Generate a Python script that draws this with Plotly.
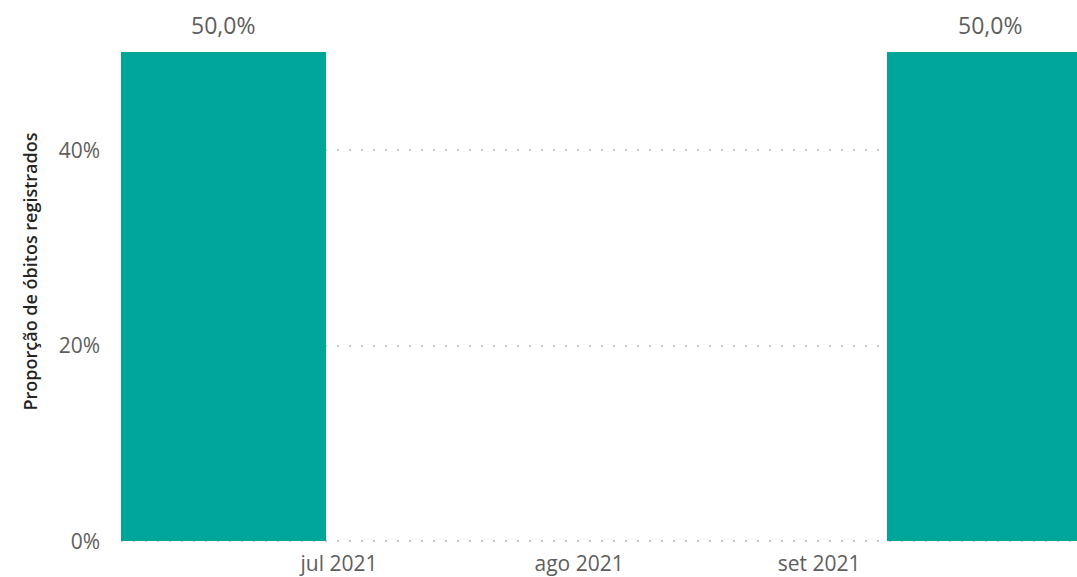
import plotly.graph_objects as go

# Data
dates = ["2021-06-16", "2021-09-23"]
values = [0.5, 0.5]
tick_dates = ["2021-07-01", "2021-08-01", "2021-09-01"]
tick_labels = ["jul 2021", "ago 2021", "set 2021"]
y_ticks = [0, 0.2, 0.4]

BAR_COLOR = "#00A59A"
TXT = "#605E5C"
FONT = "Segoe UI, Open Sans, sans-serif"
DAY_MS = 86400000

fig = go.Figure()
fig.add_trace(go.Bar(
    x=dates,
    y=values,
    width=[26.5 * DAY_MS] * len(dates),
    marker=dict(color=BAR_COLOR, line=dict(width=0)),
    hoverinfo="skip",
))

for d, v in zip(dates, values):
    fig.add_annotation(
        x=d, y=v, xref="x", yref="y",
        text=f"{v * 100:.1f}%".replace(".", ","),
        showarrow=False, yanchor="bottom", yshift=9,
        font=dict(family=FONT, size=23, color=TXT),
    )

fig.update_layout(
    width=1077,
    height=577,
    margin=dict(l=121, r=0, t=0, b=34),
    paper_bgcolor="white",
    plot_bgcolor="white",
    showlegend=False,
    bargap=0,
    xaxis=dict(
        type="date",
        range=["2021-06-02 20:10", "2021-10-04 07:12"],
        tickvals=tick_dates,
        ticktext=tick_labels,
        showgrid=False,
        zeroline=False,
        showline=False,
        ticks="",
        ticklabelstandoff=6,
        tickfont=dict(family=FONT, size=21, color=TXT),
    ),
    yaxis=dict(
        range=[-0.0016, 0.5536],
        tickvals=y_ticks,
        tickformat=".0%",
        showgrid=True,
        gridcolor="#C8C6C4",
        gridwidth=2,
        griddash="2px,10px",
        zeroline=False,
        showline=False,
        ticks="",
        ticklabelstandoff=20,
        tickfont=dict(family=FONT, size=21, color=TXT),
        title=dict(
            text="Proporção de óbitos registrados",
            font=dict(family=FONT, size=18, color="#252423", weight=600),
            standoff=16,
        ),
    ),
)

fig.write_html("out.html")
